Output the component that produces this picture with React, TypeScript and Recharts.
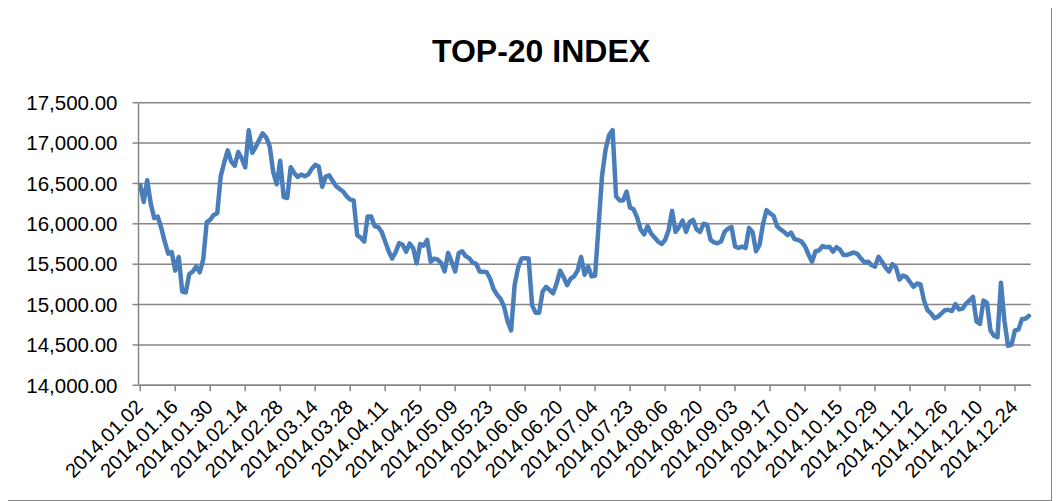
import React from 'react';
import { LineChart, Line, XAxis, YAxis, CartesianGrid } from 'recharts';

const tickLabels = [
  '2014.01.02', '2014.01.16', '2014.01.30', '2014.02.14', '2014.02.28', '2014.03.14',
  '2014.03.28', '2014.04.11', '2014.04.25', '2014.05.09', '2014.05.23', '2014.06.06',
  '2014.06.20', '2014.07.04', '2014.07.23', '2014.08.06', '2014.08.20', '2014.09.03',
  '2014.09.17', '2014.10.01', '2014.10.15', '2014.10.29', '2014.11.12', '2014.11.26',
  '2014.12.10', '2014.12.24',
];

const yTicks = [14000, 14500, 15000, 15500, 16000, 16500, 17000, 17500];

const indexValues = [
  16480, 16270, 16540, 16250, 16070, 16090, 15950, 15780, 15630, 15650,
  15420, 15590, 15160, 15150, 15375, 15410, 15470, 15400, 15560, 16020,
  16050, 16110, 16130, 16590, 16760, 16910, 16770, 16720, 16890, 16810,
  16700, 17160, 16880, 16950, 17040, 17120, 17070, 16960, 16640, 16490,
  16780, 16330, 16320, 16700, 16630, 16580, 16610, 16590, 16610, 16680,
  16730, 16710, 16460, 16585, 16600, 16530, 16465, 16430, 16400, 16340,
  16300, 16290, 15860, 15830, 15780, 16090, 16090, 15970, 15960, 15900,
  15780, 15660, 15570, 15650, 15760, 15740, 15655, 15755, 15700, 15510,
  15750, 15730, 15800, 15530, 15570, 15555, 15515, 15410, 15640, 15530,
  15410, 15635, 15660, 15600, 15575, 15520, 15505, 15410, 15405, 15400,
  15320, 15190, 15120, 15070, 14970, 14790, 14680, 15240, 15460, 15570,
  15575, 15570, 14990, 14900, 14900, 15160, 15220, 15180, 15140, 15260,
  15420, 15340, 15240, 15320, 15350, 15420, 15590, 15370, 15470, 15350,
  15360, 15980, 16600, 16920, 17100, 17160, 16340, 16290, 16290, 16400,
  16200, 16180, 16080, 15930, 15870, 15970, 15880, 15830, 15780, 15750,
  15800, 15920, 16160, 15900, 15960, 16040, 15900, 16020, 16050, 15930,
  15900, 16000, 15990, 15800, 15770, 15760, 15780, 15900, 15940, 15960,
  15720, 15700, 15720, 15700, 15950, 15900, 15660, 15740, 16000, 16170,
  16130, 16100, 15970, 15930, 15900, 15860, 15890, 15810, 15800, 15780,
  15720, 15620, 15530, 15660, 15670, 15725, 15710, 15715, 15655, 15710,
  15680, 15615, 15614, 15630, 15645, 15625, 15570, 15520, 15530, 15490,
  15470, 15590, 15530, 15460, 15410, 15500, 15460, 15310, 15360, 15340,
  15280, 15220, 15260, 15250, 15050, 14930, 14890, 14830, 14850, 14890,
  14930, 14935, 14920, 15005, 14940, 14950, 15010, 15050, 15095, 14790,
  14760, 15050, 15020, 14680, 14615, 14595, 15270, 14800, 14490, 14500,
  14680, 14690, 14820, 14825, 14860,
];

const data = indexValues.map((v, i) => ({ day: i, value: v }));

const FONT = '"Liberation Sans", Arial, sans-serif';
const GRID = '#868686';

const fmt = (v: number) => Number(v).toFixed(2).replace(/\B(?=(\d{3})+(?!\d))/g, ',');

const XTick = (props: any) => {
  const { x, y, payload } = props;
  const label = tickLabels[Math.round(Number(payload.value) / 10)] ?? '';
  const tx = x - 1;
  const ty = y + 10;
  return (
    <text
      x={tx}
      y={ty}
      dy="0.35em"
      textAnchor="end"
      transform={`rotate(-45 ${tx} ${ty})`}
      fontSize={20}
      fill="#000"
      fontFamily={FONT}
    >
      {label}
    </text>
  );
};

export default function App() {
  return (
    <div style={{ position: 'relative', width: 1045, height: 493, fontFamily: FONT }}>
      <div
        style={{
          position: 'absolute',
          left: -1,
          top: -5,
          width: 1045,
          height: 498,
          border: '1px solid #868686',
          boxSizing: 'border-box',
        }}
      />
      <div
        style={{
          position: 'absolute',
          left: 333,
          top: 27,
          width: 400,
          textAlign: 'center',
          fontSize: 32,
          lineHeight: '32px',
          fontWeight: 'bold',
          color: '#000',
        }}
      >
        TOP-20 INDEX
      </div>
      <LineChart
        width={1045}
        height={493}
        data={data}
        margin={{ top: 94.7, right: 22.3, bottom: 0, left: 0 }}
      >
        <CartesianGrid vertical={false} stroke={GRID} strokeWidth={1.5} />
        <XAxis
          dataKey="day"
          type="category"
          interval={9}
          height={115.7}
          padding={{ left: 1.75, right: 1.75 }}
          tick={<XTick />}
          tickSize={6}
          tickLine={{ stroke: GRID, strokeWidth: 1.5 }}
          axisLine={{ stroke: GRID, strokeWidth: 1.5 }}
        />
        <YAxis
          width={130.5}
          domain={[14000, 17500]}
          ticks={yTicks}
          type="number"
          allowDataOverflow
          tickFormatter={fmt}
          tickSize={6}
          tickMargin={15}
          tick={{ fontSize: 20.5, fill: '#000', fontFamily: FONT }}
          tickLine={{ stroke: GRID, strokeWidth: 1.5 }}
          axisLine={{ stroke: GRID, strokeWidth: 1.5 }}
        />
        <Line
          type="linear"
          dataKey="value"
          stroke="#4a7ebb"
          strokeWidth={4.5}
          dot={false}
          activeDot={false}
          strokeLinejoin="round"
          strokeLinecap="round"
          isAnimationActive={false}
        />
      </LineChart>
    </div>
  );
}
